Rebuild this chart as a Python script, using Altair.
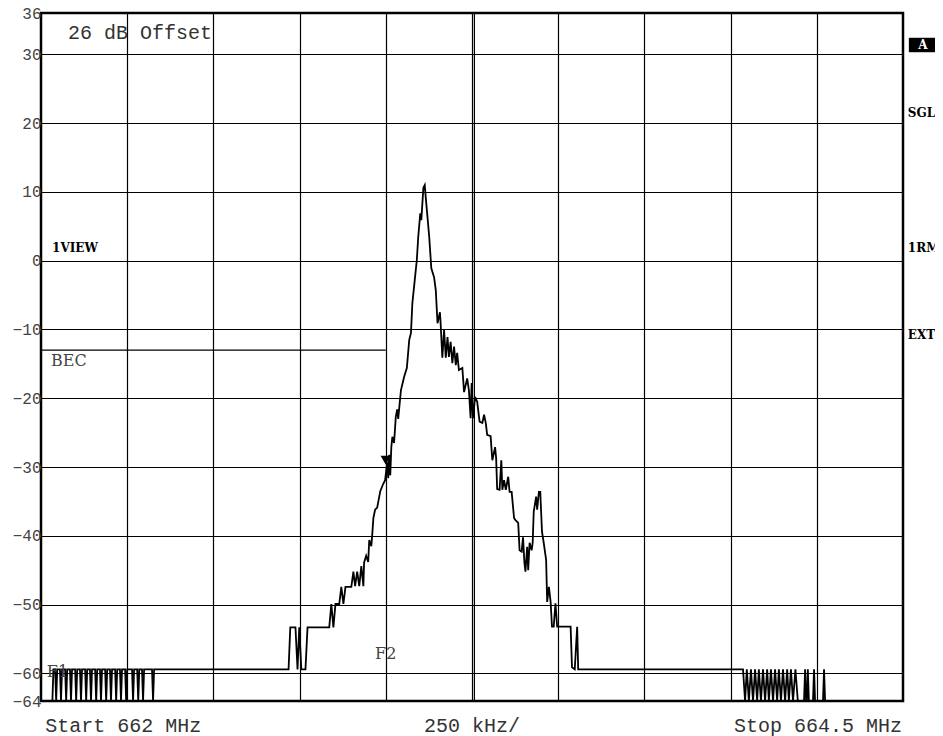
import altair as alt
import pandas as pd

# ---------------- data (MHz, dBm) ----------------
left_noise = [
    (662.000, -64.0), (662.033, -64.0), (662.036, -59.4),
    (662.041, -59.4), (662.044, -64.0), (662.047, -59.4),
    (662.055, -59.4), (662.058, -64.0), (662.061, -59.4),
    (662.070, -59.4), (662.073, -64.0), (662.076, -59.4),
    (662.084, -59.4), (662.087, -64.0), (662.090, -59.4),
    (662.099, -59.4), (662.102, -64.0), (662.105, -59.4),
    (662.113, -59.4), (662.116, -64.0), (662.119, -59.4),
    (662.128, -59.4), (662.131, -64.0), (662.134, -59.4),
    (662.142, -59.4), (662.145, -64.0), (662.148, -59.4),
    (662.157, -59.4), (662.160, -64.0), (662.163, -59.4),
    (662.171, -59.4), (662.174, -64.0), (662.177, -59.4),
    (662.186, -59.4), (662.189, -64.0), (662.192, -59.4),
    (662.200, -59.4), (662.203, -64.0), (662.206, -59.4),
    (662.215, -59.4), (662.218, -64.0), (662.221, -59.4),
    (662.229, -59.4), (662.232, -64.0), (662.235, -59.4),
    (662.244, -59.4), (662.247, -64.0), (662.250, -59.4),
    (662.264, -59.4), (662.267, -64.0), (662.270, -59.4),
    (662.279, -59.4), (662.282, -64.0), (662.285, -59.4),
    (662.293, -59.4), (662.296, -64.0), (662.299, -59.4),
    (662.322, -59.4), (662.325, -64.0), (662.328, -59.4),
]

main_trace = [
    (662.330, -59.4), (662.718, -59.4), (662.723, -53.3), (662.738, -53.3),
    (662.744, -59.4), (662.749, -53.3), (662.755, -59.4), (662.767, -59.4),
    (662.773, -53.3), (662.836, -53.3), (662.842, -49.9), (662.848, -53.3),
    (662.854, -49.9), (662.865, -49.9), (662.871, -47.4), (662.877, -49.9),
    (662.883, -47.4), (662.900, -47.4), (662.906, -45.2), (662.911, -47.3),
    (662.917, -45.2), (662.923, -47.3), (662.929, -44.4), (662.935, -47.3),
    (662.937, -43.9), (662.943, -42.9), (662.949, -43.8), (662.952, -40.6),
    (662.958, -41.5), (662.961, -39.6), (662.964, -37.4), (662.969, -36.2),
    (662.975, -35.9), (662.984, -33.5), (662.992, -32.5), (662.998, -31.9),
    (663.004, -29.3), (663.007, -31.6), (663.010, -28.2), (663.013, -31.2),
    (663.016, -27.1), (663.019, -25.6), (663.024, -26.5), (663.029, -22.7),
    (663.033, -21.6), (663.036, -23.0), (663.039, -21.4), (663.044, -18.8),
    (663.053, -16.9), (663.061, -15.6), (663.068, -11.5), (663.073, -10.5),
    (663.077, -6.2), (663.084, -2.8), (663.090, 0.1), (663.094, 3.4),
    (663.100, 6.9), (663.103, 5.9), (663.109, 10.6), (663.113, 11.0),
    (663.116, 9.1), (663.121, 6.3), (663.126, 3.4), (663.132, -1.1),
    (663.140, -2.4), (663.145, -4.3), (663.150, -9.1), (663.157, -7.5),
    (663.159, -9.1), (663.164, -14.1), (663.169, -10.1), (663.174, -14.1),
    (663.179, -11.1), (663.183, -14.0), (663.188, -11.8), (663.193, -14.9),
    (663.198, -12.5), (663.203, -15.2), (663.207, -13.4), (663.212, -15.9),
    (663.222, -15.6), (663.227, -19.1), (663.236, -17.1), (663.241, -18.8),
    (663.246, -22.9), (663.249, -17.8), (663.253, -22.9), (663.259, -19.8),
    (663.265, -20.5), (663.272, -23.4), (663.280, -23.6), (663.285, -22.4),
    (663.290, -23.6), (663.294, -25.3), (663.304, -25.5), (663.309, -29.0),
    (663.317, -27.1), (663.320, -28.7), (663.323, -33.2), (663.330, -33.3),
    (663.335, -29.0), (663.338, -33.3), (663.343, -31.9), (663.348, -33.3),
    (663.355, -31.4), (663.359, -33.6), (663.365, -33.6), (663.372, -37.4),
    (663.376, -37.7), (663.384, -38.1), (663.388, -42.1), (663.394, -42.3),
    (663.398, -40.2), (663.402, -43.9), (663.405, -45.2), (663.410, -41.6),
    (663.413, -45.0), (663.417, -41.0), (663.423, -42.1), (663.426, -41.0),
    (663.429, -36.5), (663.436, -34.3), (663.439, -36.2), (663.444, -33.6),
    (663.448, -33.6), (663.453, -39.4), (663.458, -41.0), (663.465, -43.5),
    (663.468, -49.6), (663.473, -47.4), (663.478, -49.6), (663.482, -53.2),
    (663.487, -53.2), (663.492, -49.8), (663.497, -53.2), (663.536, -53.2),
    (663.540, -59.1), (663.548, -59.4), (663.555, -53.2), (663.558, -59.4),
]

right_noise = [
    (664.032, -59.4), (664.036, -59.4), (664.042, -64.0), (664.047, -59.4),
    (664.053, -64.0), (664.059, -59.4), (664.065, -64.0), (664.071, -59.4),
    (664.077, -64.0), (664.082, -59.4), (664.088, -64.0), (664.094, -59.4),
    (664.100, -64.0), (664.106, -59.4), (664.111, -64.0), (664.117, -59.4),
    (664.123, -64.0), (664.129, -59.4), (664.135, -64.0), (664.140, -59.4),
    (664.146, -64.0), (664.152, -59.4), (664.158, -64.0), (664.164, -59.4),
    (664.169, -64.0), (664.175, -59.4), (664.181, -64.0), (664.188, -59.4),
    (664.195, -64.0), (664.213, -64.0), (664.216, -59.4), (664.219, -64.0),
    (664.221, -64.0), (664.224, -59.4), (664.227, -64.0), (664.239, -64.0),
    (664.242, -59.4), (664.245, -64.0), (664.268, -64.0), (664.271, -59.4),
    (664.274, -64.0), (664.500, -64.0),
]

x_grid_mhz = [662.25, 662.5, 662.75, 663.0, 663.25, 663.5, 663.75, 664.0, 664.25]
y_tick_db = [36, 30, 20, 10, 0, -10, -20, -30, -40, -50, -60, -64]
center_double_mhz = [663.257]
bec_line = [(662.0, 663.0, -13.0)]
marker_pt = [(663.0, -29.0)]

mono_texts = [  # text, MHz, dB, align
    ("26 dB Offset", 662.078, 33.1, "left"),
    ("Start 662 MHz", 662.012, -67.6, "left"),
    ("250 kHz/", 663.25, -67.6, "center"),
    ("Stop 664.5 MHz", 664.497, -67.6, "right"),
]
serif_texts = [
    ("BEC", 662.029, -14.6),
    ("F2", 662.969, -57.2),
    ("F1", 662.017, -59.8),
]
bold_texts = [
    ("1VIEW", 662.032, 1.8),
    ("SGL", 664.514, 21.5),
    ("1RM", 664.514, 1.8),
    ("EXT", 664.514, -10.8),
]
a_box = [(664.517, 664.599, 32.4, 30.3)]

# ---------------- chart ----------------
xs = alt.Scale(domain=[662.0, 664.5], nice=False, zero=False)
ys = alt.Scale(domain=[-64, 36], nice=False, zero=False)

x_axis = alt.Axis(values=x_grid_mhz, grid=True, gridColor="black", gridWidth=1.2,
                  gridOpacity=1, labels=False, ticks=False, domain=False, title=None)
y_axis = alt.Axis(values=y_tick_db, grid=True, gridColor="black", gridWidth=1.2,
                  gridOpacity=1, ticks=False, domain=False, title=None, format="d",
                  labelFont="Liberation Mono", labelFontSize=16, labelColor="#444444",
                  labelPadding=0, labelOverlap=False, labelFlush=False)


def X(field):
    return alt.X(field, scale=xs, axis=x_axis)


def Y(field):
    return alt.Y(field, scale=ys, axis=y_axis)


trace_df = pd.DataFrame(left_noise + main_trace + right_noise, columns=["f", "db"])
trace_df["i"] = range(len(trace_df))

trace = alt.Chart(trace_df).mark_line(color="black", strokeWidth=1.8).encode(
    x=X("f:Q"), y=Y("db:Q"), order="i:Q")

dbl = alt.Chart(pd.DataFrame({"f": center_double_mhz})).mark_rule(
    color="black", strokeWidth=1.2).encode(x=X("f:Q"))

bec = alt.Chart(pd.DataFrame(bec_line, columns=["f", "f2", "db"])).mark_rule(
    color="black", strokeWidth=1.1).encode(x=X("f:Q"), x2="f2:Q", y=Y("db:Q"))

marker = alt.Chart(pd.DataFrame(marker_pt, columns=["f", "db"])).mark_point(
    shape="triangle-down", filled=True, color="black", size=110, opacity=1).encode(
    x=X("f:Q"), y=Y("db:Q"))


def text_layer(rows, align, font, size, weight, color):
    df = pd.DataFrame(rows, columns=["t", "f", "db"])
    return alt.Chart(df).mark_text(align=align, baseline="middle", font=font,
                                   fontSize=size, fontWeight=weight, color=color).encode(
        x=X("f:Q"), y=Y("db:Q"), text="t:N")


mono_layers = []
for al in ["left", "center", "right"]:
    rows = [(t, f, d) for (t, f, d, a) in mono_texts if a == al]
    mono_layers.append(text_layer(rows, al, "Liberation Mono", 20, "normal", "#333333"))

serif_layer = text_layer(serif_texts, "left", "DejaVu Serif", 16, "normal", "#444444")
bold_layer = text_layer(bold_texts, "left", "DejaVu Serif", 12, "bold", "black")

box = alt.Chart(pd.DataFrame(a_box, columns=["f", "f2", "db", "d2"])).mark_rect(
    color="black").encode(x=X("f:Q"), x2="f2:Q", y=Y("db:Q"), y2="d2:Q")
box_text = text_layer([("A", (a_box[0][0] + a_box[0][1]) / 2,
                        (a_box[0][2] + a_box[0][3]) / 2)],
                      "center", "DejaVu Serif", 12, "bold", "white")

chart = alt.layer(dbl, bec, trace, marker, *mono_layers, serif_layer, bold_layer,
                  box, box_text).properties(
    width=862, height=688,
    autosize=alt.AutoSizeParams(type="none"),
    padding={"left": 33, "top": 5, "right": 32, "bottom": 38},
    background="white",
).configure_view(stroke="black", strokeWidth=2.5)

chart.save("out.html", embed_options={"renderer": "svg", "actions": False})
